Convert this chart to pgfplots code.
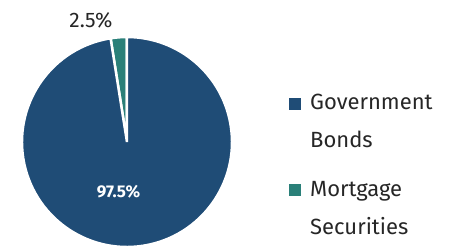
\documentclass[border=0pt]{standalone}
\usepackage{pgfplots}
\pgfplotsset{compat=1.18}
\usepackage{fontspec}
\setmainfont{Fira Sans}
\definecolor{govblue}{RGB}{31,76,118}
\definecolor{mortteal}{RGB}{42,128,121}
\def\valGov{97.5}
\def\valMort{2.5}
\begin{document}
\begin{tikzpicture}
\pgfmathsetmacro\angB{90+3.6*\valMort}
\pgfmathsetmacro\angC{\angB+3.6*\valGov}
\begin{axis}[
  scale only axis, width=210pt, height=210pt,
  xmin=-1, xmax=1, ymin=-1, ymax=1,
  hide axis, clip=false,
  anchor=center, at={(0pt,0pt)},
]
\fill[mortteal, draw=white, line width=2.5pt] (axis cs:0,0) -- (axis cs:{cos(90)},{sin(90)}) arc[start angle=90, end angle=\angB, radius=105pt] -- cycle;
\fill[govblue, draw=white, line width=2.5pt] (axis cs:0,0) -- (axis cs:{cos(\angB)},{sin(\angB)}) arc[start angle=\angB, end angle=\angC, radius=105pt] -- cycle;
\node[anchor=base, font=\fontsize{21}{25}\selectfont, text=black!85] at (axis cs:{-36/105},{115/105}) {2.5\%};
\node[anchor=base, font=\fontsize{17}{20}\selectfont\bfseries, text=white] at (axis cs:{-8.5/105},{-55/105}) {97.5\%};
\end{axis}
\begin{scope}[font=\fontsize{22}{26}\selectfont, every node/.style={anchor=base west, inner sep=0pt, text=black!85}]
\fill[govblue] (162pt,32pt) rectangle (174pt,44pt);
\node at (183pt,33pt) {Government};
\node at (183pt,-5pt) {Bonds};
\fill[mortteal] (162pt,-54pt) rectangle (174pt,-42pt);
\node at (183pt,-54pt) {Mortgage};
\node at (183pt,-92pt) {Securities};
\end{scope}
\pgfresetboundingbox
\useasboundingbox (-127pt,-105pt) rectangle (324pt,142pt);
\end{tikzpicture}
\end{document}
